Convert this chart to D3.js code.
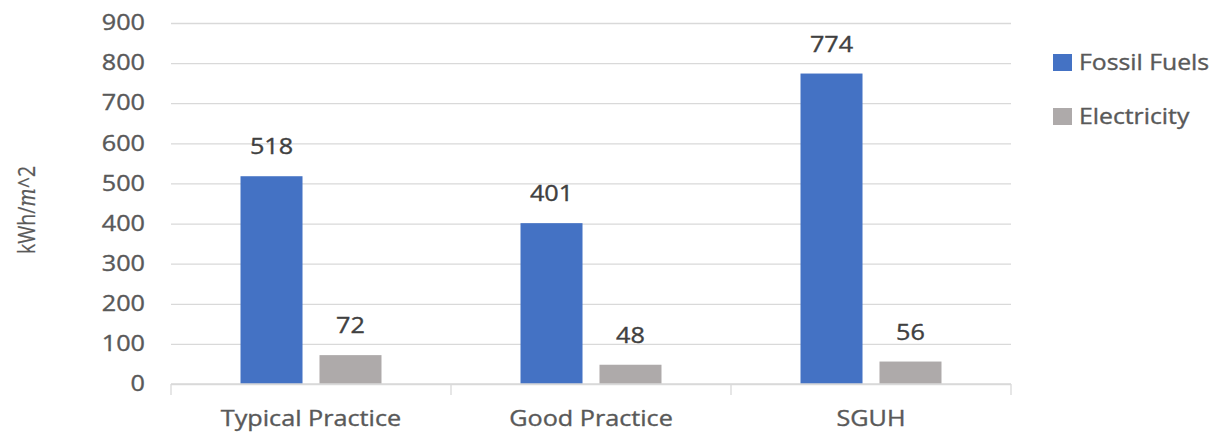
<!DOCTYPE html>
<html>
<head>
<meta charset="utf-8">
<script src="https://cdn.jsdelivr.net/npm/d3@7"></script>
<style>
  html, body { margin: 0; padding: 0; background: #fff; }
  svg { display: block; }
  text { font-family: "Open Sans", "Noto Sans", sans-serif; fill: #595959; stroke: #595959; stroke-width: 0.35px; }
</style>
</head>
<body>
<svg id="chart" width="1211" height="434"></svg>
<script>
// Annual energy use intensity by benchmark (kWh/m^2)
const categories = ["Typical Practice", "Good Practice", "SGUH"];
const seriesNames = ["Fossil Fuels", "Electricity"];
const fossilFuels = [518, 401, 774];
const electricity = [72, 48, 56];
const yTicks = [0, 100, 200, 300, 400, 500, 600, 700, 800, 900];

const colors = { "Fossil Fuels": "#4472C4", "Electricity": "#AEAAAA" };
const values = { "Fossil Fuels": fossilFuels, "Electricity": electricity };

const svg = d3.select("#chart");
const plot = { left: 171, right: 1011, top: 23, bottom: 384 };
const stretch = 1.2;   // wide text face
const fontSize = 21;

const x0 = d3.scaleBand().domain(categories).range([plot.left, plot.right]).paddingInner(0).paddingOuter(0);
const x1 = d3.scaleBand().domain(seriesNames).range([0, x0.bandwidth()]).paddingInner(0.215).paddingOuter(0.88);
const y = d3.scaleLinear().domain([0, 900]).range([plot.bottom, plot.top]);

// Gridlines and value axis
const yAxis = svg.append("g")
  .attr("transform", `translate(${plot.left},0)`)
  .call(d3.axisLeft(y).tickValues(yTicks).tickSize(-(plot.right - plot.left)).tickPadding(26 / stretch));
yAxis.select(".domain").remove();
yAxis.selectAll(".tick line").attr("stroke", "#d9d9d9").attr("stroke-width", 1.3);
yAxis.selectAll(".tick text")
  .attr("font-size", fontSize)
  .attr("fill", "#595959")
  .attr("transform", `scale(${stretch},1)`);

// Bars
const bars = svg.append("g");
categories.forEach((cat, i) => {
  seriesNames.forEach(s => {
    const v = values[s][i];
    bars.append("rect")
      .attr("x", x0(cat) + x1(s))
      .attr("y", y(v))
      .attr("width", x1.bandwidth())
      .attr("height", y(0) - y(v))
      .attr("fill", colors[s]);
    bars.append("text")
      .attr("transform", `translate(${x0(cat) + x1(s) + x1.bandwidth() / 2},${y(v) - 22}) scale(${stretch},1)`)
      .attr("text-anchor", "middle")
      .attr("font-size", fontSize)
      .style("fill", "#404040")
      .style("stroke", "#404040")
      .text(v);
  });
});

// Category axis: baseline with separators between groups
const xAxisG = svg.append("g");
xAxisG.append("line")
  .attr("x1", plot.left).attr("x2", plot.right)
  .attr("y1", y(0)).attr("y2", y(0))
  .attr("stroke", "#d9d9d9").attr("stroke-width", 1.3);
const bounds = categories.map(c => x0(c)).concat([x0(categories[categories.length - 1]) + x0.bandwidth()]);
xAxisG.selectAll("line.sep").data(bounds).join("line")
  .attr("class", "sep")
  .attr("x1", d => d).attr("x2", d => d)
  .attr("y1", y(0)).attr("y2", y(0) + 11)
  .attr("stroke", "#d9d9d9").attr("stroke-width", 1.3);

const xAxis = svg.append("g")
  .attr("transform", `translate(0,${plot.bottom})`)
  .call(d3.axisBottom(x0).tickSize(0).tickPadding(27));
xAxis.select(".domain").remove();
xAxis.selectAll(".tick text")
  .attr("font-size", fontSize)
  .attr("fill", "#595959")
  .attr("transform", `scale(${stretch},1)`);

// Value axis title
const title = svg.append("text")
  .attr("transform", `translate(35,210) scale(${stretch},1) rotate(-90)`)
  .attr("text-anchor", "middle")
  .attr("font-size", 19.5)
  .style("stroke-width", "0.2px");
title.append("tspan").text("kWh/");
title.append("tspan").attr("font-family", "'DejaVu Serif', serif").attr("font-style", "italic").text("m");
title.append("tspan").text("^2");

// Legend
const legend = svg.append("g");
seriesNames.forEach((s, i) => {
  const cy = 62.5 + i * 54;
  legend.append("rect")
    .attr("x", 1053).attr("y", cy - 8.5)
    .attr("width", 19).attr("height", 17)
    .attr("fill", colors[s]);
  legend.append("text")
    .attr("transform", `translate(1079,${cy}) scale(1.18,1)`)
    .attr("dy", "0.36em")
    .attr("font-size", fontSize)
    .text(s);
});
</script>
</body>
</html>
